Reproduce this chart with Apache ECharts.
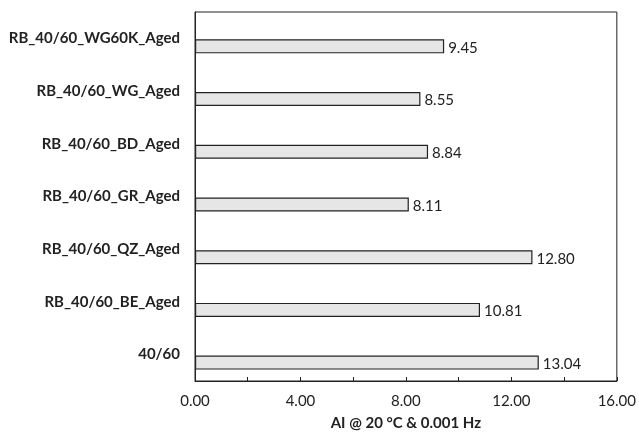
<!DOCTYPE html>
<html>
<head>
<meta charset="utf-8">
<script src="https://cdn.jsdelivr.net/npm/echarts@6/dist/echarts.min.js"></script>
<style>html,body{margin:0;padding:0;background:#fff}#c{width:639px;height:436px}</style>
</head>
<body>
<div id="c"></div>
<script>
var categories = ['40/60', 'RB_40/60_BE_Aged', 'RB_40/60_QZ_Aged', 'RB_40/60_GR_Aged', 'RB_40/60_BD_Aged', 'RB_40/60_WG_Aged', 'RB_40/60_WG60K_Aged'];
var values = [13.04, 10.81, 12.80, 8.11, 8.84, 8.55, 9.45];
var axisName = 'AI @ 20 °C & 0.001 Hz';
var xMin = 0, xMax = 16, xStep = 4;

var font = 'Lato, "Open Sans", sans-serif';
var chart = echarts.init(document.getElementById('c'), null, {renderer: 'canvas'});
chart.setOption({
  animation: false,
  backgroundColor: '#fff',
  grid: {left: 195, right: 22, top: 12, bottom: 55, show: true, borderColor: '#222', borderWidth: 1, backgroundColor: 'transparent'},
  xAxis: {
    type: 'value', min: xMin, max: xMax, interval: xStep,
    name: axisName, nameLocation: 'middle', nameGap: 35,
    nameTextStyle: {fontFamily: font, fontSize: 15, fontWeight: 'bold', color: '#222'},
    axisLine: {show: true, lineStyle: {color: '#222', width: 1}},
    axisTick: {show: true, inside: true, length: 4, lineStyle: {color: '#222'}},
    minorTick: {show: true, splitNumber: 2, length: 4, lineStyle: {color: '#222'}},
    splitLine: {show: false},
    axisLabel: {fontFamily: font, fontSize: 15, color: '#222', margin: 13, formatter: function (v) { return v.toFixed(2); }}
  },
  yAxis: {
    type: 'category', data: categories,
    axisLine: {show: true, lineStyle: {color: '#222', width: 1}},
    axisTick: {show: false},
    axisLabel: {fontFamily: font, fontSize: 15, fontWeight: 'bold', color: '#222', margin: 15}
  },
  series: [
    {
      type: 'bar', data: values.map(function () { return null; }), barWidth: 14, barGap: '14%',
      itemStyle: {color: 'transparent'}, silent: true
    },
    {
      type: 'bar', data: values, barWidth: 14, barGap: '14%',
      itemStyle: {color: '#e6e6e7', borderColor: '#222', borderWidth: 1.2},
      label: {show: true, position: 'right', distance: 4, offset: [0, 1.5], fontFamily: font, fontSize: 15, color: '#222',
        formatter: function (p) { return p.value.toFixed(2); }}
    }
  ]
});
</script>
</body>
</html>
